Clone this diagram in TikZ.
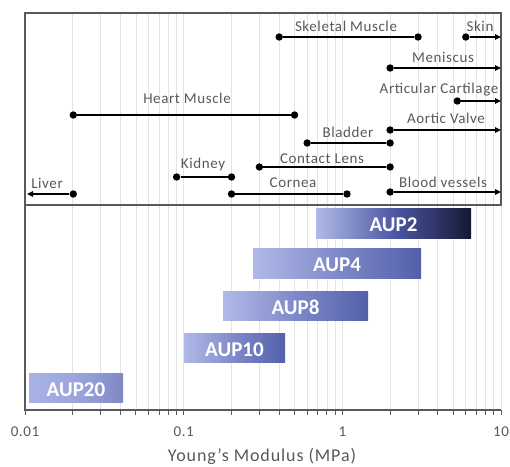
\documentclass[tikz,border=0pt]{standalone}
\usepackage{fontspec}
\setmainfont{Carlito}
\newfontfamily\lblfont[LetterSpace=4]{Carlito}
\newfontfamily\ttlfont[LetterSpace=5]{Carlito}
\usetikzlibrary{arrows.meta}
\definecolor{txtgray}{HTML}{595959}
\definecolor{framegray}{HTML}{595959}
\definecolor{gridgray}{HTML}{E4E4E4}
\definecolor{barlight}{HTML}{B0BAE7}
\definecolor{barmid}{HTML}{7F89C9}
\definecolor{bardark}{HTML}{5360AA}
\definecolor{navymid}{HTML}{4E58A4}
\definecolor{navy}{HTML}{141834}
\definecolor{aupXXr}{HTML}{7F88C4}
\definecolor{aupXXm}{HTML}{9CA5DB}
\definecolor{aupXXl}{HTML}{A8B2E3}
\pgfmathdeclarefunction{lx}{1}{\pgfmathparse{25+158.667*(log10(#1)+2)}}
\begin{document}
\begin{tikzpicture}[x=1pt,y=-1pt,
  grid/.style={draw=gridgray, line width=0.8pt},
  frame/.style={draw=framegray, line width=1.3pt},
  tickline/.style={draw=framegray, line width=1pt},
  dotnode/.style={circle, fill=black, inner sep=0pt, minimum size=7.4pt},
  rangeline/.style={draw=black, line width=1.6pt},
  arrowline/.style={draw=black, line width=1.6pt, -{Triangle[length=6pt,width=5.5pt]}},
  lbl/.style={font=\lblfont\fontsize{15}{18}\selectfont, text=txtgray, anchor=base, inner sep=0pt},
  ticklbl/.style={font=\lblfont\fontsize{15}{18}\selectfont, text=txtgray, anchor=base, inner sep=0pt},
  ttl/.style={font=\ttlfont\fontsize{18}{22}\selectfont, text=txtgray, anchor=base, inner sep=0pt},
  bar/.style={inner sep=0pt, minimum height=29.5pt, text=white, font=\bfseries\fontsize{21}{25}\selectfont, text height=16.5pt, text depth=0pt},
]
\useasboundingbox (0,0) rectangle (510,466);
\fill[white] (0,0) rectangle (510,466);

% grid lines
\foreach \k in {0,1,2} {
  \foreach \m in {1,...,9} {
    \draw[grid] ({25+158.667*(\k+log10(\m))},13) -- ({25+158.667*(\k+log10(\m))},410);
  }
}
\draw[grid] (501,13) -- (501,410);

% bars
\node[bar, minimum width=155pt, left color=barlight, right color=navy, middle color=navymid] (aup2) at (393.5,223.5) {AUP2};
\node[bar, minimum width=168pt, left color=barlight, right color=bardark, middle color=barmid] (aup4) at (337,263.5) {AUP4};
\node[bar, minimum width=145pt, left color=barlight, right color=bardark, middle color=barmid] (aup8) at (295.5,306) {AUP8};
\node[bar, minimum width=101pt, left color=barlight, right color=bardark, middle color=barmid] (aup10) at (234.5,348) {AUP10};
\node[bar, minimum width=94pt, left color=aupXXl, right color=aupXXr, middle color=aupXXm] (aup20) at (76,388) {AUP20};

% frame and axes
\draw[frame] (25,13) rectangle (501,205);
\draw[frame] (25,205) -- (25,410) -- (501,410);
\foreach \k in {0,1,2} {
  \foreach \m in {1,...,9} {
    \draw[tickline] ({25+158.667*(\k+log10(\m))},410) -- ({25+158.667*(\k+log10(\m))},415);
  }
}
\draw[tickline] (501,410) -- (501,415);

% tick labels and axis title
\node[ticklbl] (t1) at (25,436) {0.01};
\node[ticklbl] (t2) at (183.7,436) {0.1};
\node[ticklbl] (t3) at (342.3,436) {1};
\node[ticklbl] (t4) at (501,436) {10};
\node[ttl] (xttl) at (262,461) {Young’s Modulus (MPa)};

% ranges
\node[dotnode] (skelA) at ({lx(0.4)},37) {};
\node[dotnode] (skelB) at ({lx(3)},37) {};
\draw[rangeline] (skelA) -- (skelB);
\node[lbl] (lSkel) at (346,31) {Skeletal Muscle};

\node[dotnode] (skinA) at ({lx(6)},37) {};
\coordinate (skinE) at (501,37);
\draw[arrowline] (skinA) -- (skinE);
\node[lbl] (lSkin) at (480,31) {Skin};

\node[dotnode] (menA) at ({lx(2)},68) {};
\coordinate (menE) at (501,68);
\draw[arrowline] (menA) -- (menE);
\node[lbl] (lMen) at (443,62) {Meniscus};

\node[dotnode] (artA) at ({lx(5.3)},101) {};
\coordinate (artE) at (501,101);
\draw[arrowline] (artA) -- (artE);
\node[lbl] (lArt) at (439,93.5) {Articular Cartilage};

\node[dotnode] (heartA) at ({lx(0.02)},115) {};
\node[dotnode] (heartB) at ({lx(0.5)},115) {};
\draw[rangeline] (heartA) -- (heartB);
\node[lbl] (lHeart) at (187,103) {Heart Muscle};

\node[dotnode] (aortA) at ({lx(2)},130) {};
\coordinate (aortE) at (501,130);
\draw[arrowline] (aortA) -- (aortE);
\node[lbl] (lAort) at (446,123.5) {Aortic Valve};

\node[dotnode] (bladA) at ({lx(0.6)},143) {};
\node[dotnode] (bladB) at ({lx(2)},143) {};
\draw[rangeline] (bladA) -- (bladB);
\node[lbl] (lBlad) at (348,137.5) {Bladder};

\node[dotnode] (contA) at ({lx(0.3)},167) {};
\node[dotnode] (contB) at ({lx(2)},167) {};
\draw[rangeline] (contA) -- (contB);
\node[lbl] (lCont) at (322,163.5) {Contact Lens};

\node[dotnode] (kidA) at ({lx(0.09)},177) {};
\node[dotnode] (kidB) at ({lx(0.2)},177) {};
\draw[rangeline] (kidA) -- (kidB);
\node[lbl] (lKid) at (203,168.5) {Kidney};

\node[dotnode] (cornA) at ({lx(0.2)},194) {};
\node[dotnode] (cornB) at ({lx(1.07)},194) {};
\draw[rangeline] (cornA) -- (cornB);
\node[lbl] (lCorn) at (293,187.5) {Cornea};

\node[dotnode] (bloodA) at ({lx(2)},192) {};
\coordinate (bloodE) at (501,192);
\draw[arrowline] (bloodA) -- (bloodE);
\node[lbl] (lBlood) at (443,187) {Blood vessels};

\node[dotnode] (livA) at ({lx(0.02)},194) {};
\coordinate (livE) at (27,194);
\draw[arrowline] (livA) -- (livE);
\node[lbl] (lLiv) at (47,188.5) {Liver};
\end{tikzpicture}
\end{document}
